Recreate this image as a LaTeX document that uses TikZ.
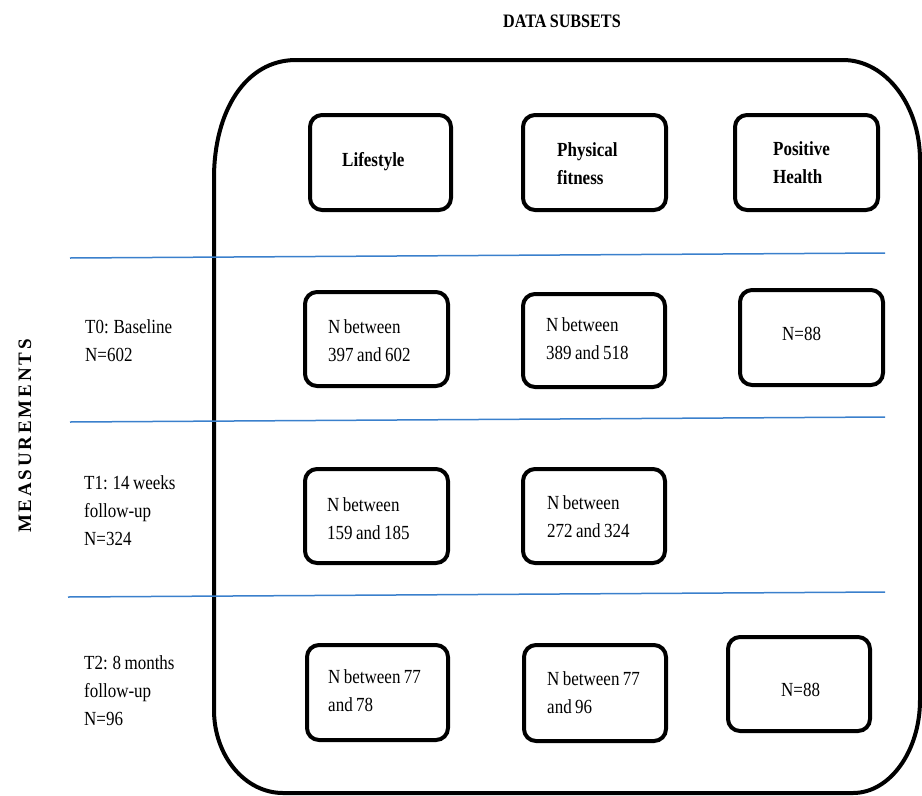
\documentclass[tikz,border=0pt]{standalone}
\usepackage{fontspec}
\setmainfont{Liberation Serif}[FakeStretch=0.85,WordSpace=0.8]
\newfontfamily\measfont{Liberation Serif}[LetterSpace=15]
\definecolor{divblue}{RGB}{58,128,204}
\begin{document}
\begin{tikzpicture}[x=1pt,y=-1pt,
  box/.style={draw, line width=4pt, rounded corners=12pt, inner sep=0pt},
  lbl/.style={anchor=west, align=left, inner sep=0pt, font=\fontsize{20}{28}\selectfont},
  hdr/.style={lbl, font=\fontsize{20}{28}\selectfont\bfseries},
  divider/.style={draw=divblue, line width=1.5pt},
  outer/.style={draw, line width=4pt}]
\useasboundingbox (0,0) rectangle (922,796);

% outer rounded frame
\path[outer] (214,710) -- (214,178)
  .. controls (214,112) and (245,60) .. (296,60)
  -- (843,60)
  .. controls (885.5,60) and (920,105) .. (920,160)
  -- (920,700)
  .. controls (920,751) and (890,793) .. (853,793)
  -- (283,793)
  .. controls (245,793) and (214,756) .. (214,710) -- cycle;

% dividers
\path[divider] (70,258) -- (885,253);
\path[divider] (70,422) -- (885,417);
\path[divider] (68,597) -- (885,592);

% titles
\node[inner sep=0pt, font=\fontsize{19}{22}\selectfont\bfseries] (title) at (562,21) {DATA SUBSETS};
\node[inner sep=0pt, rotate=90, font=\fontsize{19}{22}\selectfont\measfont\bfseries] (meas) at (25,436) {MEASUREMENTS};

% header boxes
\node[box, minimum width=141pt, minimum height=95pt] (h1) at (380.5,162.5) {};
\node[box, minimum width=143pt, minimum height=95pt] (h2) at (594.5,162.5) {};
\node[box, minimum width=143pt, minimum height=95pt] (h3) at (806.5,162.5) {};
\node[hdr] (h1t) at (342,162) {Lifestyle};
\node[hdr] (h2t) at (557,164) {Physical\\fitness};
\node[hdr] (h3t) at (773,163) {Positive\\Health};

% row labels
\node[lbl] (t0) at (85,341) {T0: Baseline\\N=602};
\node[lbl] (t1) at (84,511) {T1: 14 weeks\\follow-up\\N=324};
\node[lbl] (t2) at (84,691) {T2: 8 months\\follow-up\\N=96};

% T0 row
\node[box, minimum width=143pt, minimum height=94pt] (r0a) at (376.5,339) {};
\node[box, minimum width=142pt, minimum height=93pt] (r0b) at (594,340.5) {};
\node[box, minimum width=143pt, minimum height=95pt] (r0c) at (811.5,337.5) {};
\node[lbl] (r0at) at (328,341) {N between\\397 and 602};
\node[lbl] (r0bt) at (546,339) {N between\\389 and 518};
\node[lbl] (r0ct) at (782,334) {N=88};

% T1 row
\node[box, minimum width=143pt, minimum height=94pt] (r1a) at (376.5,516) {};
\node[box, minimum width=142pt, minimum height=94pt] (r1b) at (594,516) {};
\node[lbl] (r1at) at (327,519) {N between\\159 and 185};
\node[lbl] (r1bt) at (547,517) {N between\\272 and 324};

% T2 row
\node[box, minimum width=141pt, minimum height=95pt] (r2a) at (377.5,692.5) {};
\node[box, minimum width=142pt, minimum height=96pt] (r2b) at (595,693) {};
\node[box, minimum width=142pt, minimum height=94pt] (r2c) at (799,684) {};
\node[lbl] (r2at) at (328,691) {N between 77\\and 78};
\node[lbl] (r2bt) at (547,693) {N between 77\\and 96};
\node[lbl] (r2ct) at (781,690) {N=88};
\end{tikzpicture}
\end{document}
